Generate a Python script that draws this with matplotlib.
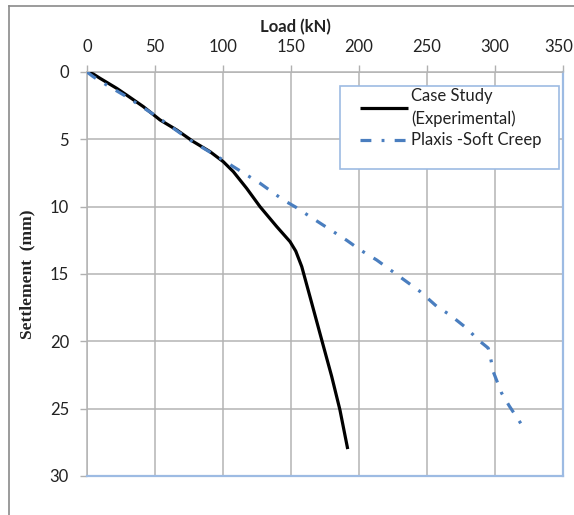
import matplotlib
matplotlib.use("Agg")
import matplotlib.pyplot as plt
import matplotlib.transforms as mtransforms
from matplotlib.lines import Line2D
from matplotlib.patches import Rectangle

# Case Study (Experimental)
case_load = [0, 4.6, 9.6, 15.7, 21.8, 29.1, 41.4, 53.7, 65.9, 78.2, 90.4, 100.2,
             107.6, 117.4, 127.2, 139.5, 149.3, 153.5, 157.9, 164.0, 172.6, 179.9, 186.0, 191.7]
case_settle = [0, 0.15, 0.47, 0.84, 1.21, 1.71, 2.57, 3.56, 4.3, 5.17, 5.91, 6.66,
               7.4, 8.64, 10.0, 11.48, 12.6, 13.3, 14.45, 16.7, 19.9, 22.6, 25.1, 28.0]

# Plaxis - Soft Creep
plaxis_load = [0, 4.6, 14.5, 29.1, 51.2, 75.7, 97.8, 107.6, 127.2, 144.3, 153.7, 164.0,
               191.0, 200.7, 213.0, 235.0, 244.9, 257.1, 266.9, 279.2, 287.7, 295.0,
               296.8, 298.7, 304.9, 310.5, 320.3]
plaxis_settle = [0, 0.35, 0.97, 1.83, 3.3, 5.05, 6.4, 7.03, 8.26, 9.5, 10.05, 10.74,
                 12.5, 13.2, 13.96, 15.57, 16.3, 17.4, 18.04, 19.03, 19.9, 20.5,
                 21.26, 22.25, 23.85, 24.8, 26.3]

x_ticks = [0, 50, 100, 150, 200, 250, 300, 350]
y_ticks = [0, 5, 10, 15, 20, 25, 30]

plt.rcParams['font.family'] = ['Lato', 'DejaVu Sans']

W, H = 574, 515
fig = plt.figure(figsize=(W / 100, H / 100), dpi=100)
ax = fig.add_axes([87 / W, 1 - 476 / H, (563 - 87) / W, (476 - 72) / H])

ax.plot(case_load, case_settle, color='black', lw=2.3, solid_capstyle='butt',
        label='Case Study\n(Experimental)', zorder=3)
ax.plot(plaxis_load, plaxis_settle, color='#4a7ebf', lw=2.3,
        dashes=(3.4, 3.2, 0.9, 3.2), label='Plaxis -Soft Creep', zorder=3)

ax.set_xlim(0, 350)
ax.set_ylim(30, 0)
ax.set_xticks(x_ticks)
ax.set_yticks(y_ticks)
ax.xaxis.tick_top()
ax.xaxis.set_label_position('top')
ax.tick_params(axis='both', direction='out', length=5, width=1, color='#b0b0b0',
               labelsize=12, labelcolor='#222222')
ax.tick_params(axis='x', pad=7)
ax.tick_params(axis='y', pad=8)
ax.grid(True, color='#b4b4b4', lw=1.1, zorder=0)
ax.set_axisbelow(True)

# keep the last top tick label inside the figure
fig.canvas.draw()
last = ax.xaxis.get_majorticklabels()[-1]
last.set_transform(last.get_transform() +
                   mtransforms.ScaledTranslation(-4 / 100, 0, fig.dpi_scale_trans))

for side in ['left', 'top']:
    ax.spines[side].set_color('#b4b4b4')
    ax.spines[side].set_linewidth(1.1)
for side in ['right', 'bottom']:
    ax.spines[side].set_color('#9dbbe3')
    ax.spines[side].set_linewidth(1.6)

ax.set_xlabel('Load (kN)', fontsize=12, fontweight='bold', color='#222222')
ax.xaxis.set_label_coords((295 - 87) / 476, 1 + (72 - 27) / 404)
ax.xaxis.label.set_va('center')
ax.set_ylabel('Settlement  (mm)', fontsize=12.5, fontweight='bold',
              family='Liberation Serif', color='#222222')
ax.yaxis.set_label_coords(-(87 - 27) / 476, 0.5)
ax.yaxis.label.set_va('center')

# legend frame
frame = Rectangle((340 / W, 1 - 169 / H), (559 - 340) / W, (169 - 86) / H,
                  transform=fig.transFigure, facecolor='white',
                  edgecolor='#9dbbe3', lw=1.2, zorder=4, clip_on=False)
ax.add_patch(frame)
leg = ax.legend(loc='upper left', bbox_to_anchor=(360 / W, 1 - 88 / H),
                bbox_transform=fig.transFigure, frameon=False,
                fontsize=12, handlelength=2.85, handletextpad=0.2,
                borderpad=0, labelspacing=0.35, borderaxespad=0)
leg.set_zorder(5)
for t in leg.get_texts():
    t.set_color('#222222')
    t.set_linespacing(1.45)

# figure border (left and top)
fig.add_artist(Line2D([9 / W, 9 / W], [0, 1 - 6 / H], transform=fig.transFigure,
                      color='#8a8a8a', lw=1.2))
fig.add_artist(Line2D([9 / W, 1], [1 - 6 / H, 1 - 6 / H], transform=fig.transFigure,
                      color='#8a8a8a', lw=1.2))

fig.savefig('out.png', dpi=100)
